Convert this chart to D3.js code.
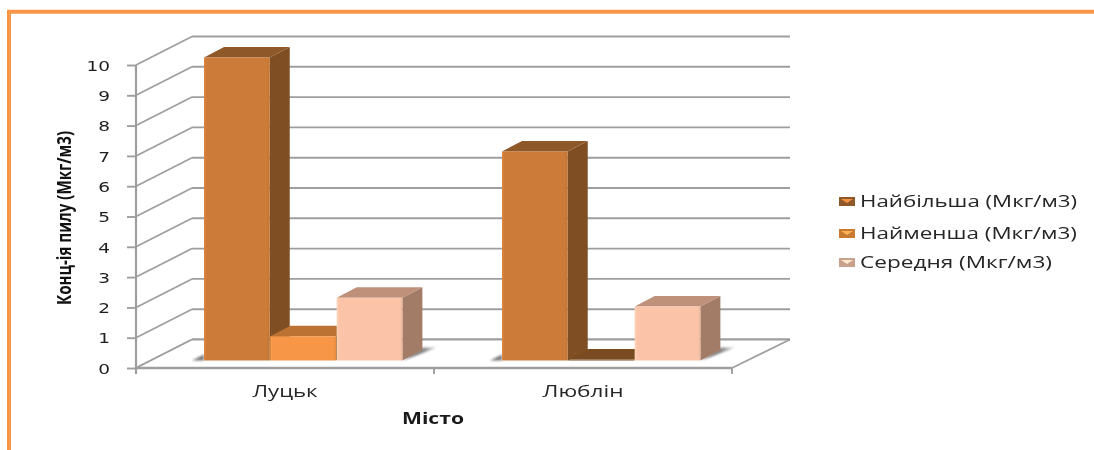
<!DOCTYPE html>
<html><head><meta charset="utf-8">
<script src="https://cdn.jsdelivr.net/npm/d3@7/dist/d3.min.js"></script>
<style>html,body{margin:0;padding:0;background:#fff;overflow:hidden}svg{display:block;filter:blur(0.4px)}</style>
</head><body><svg id="c" width="1094" height="450"></svg>
<script>
const categories = ["Луцьк", "Люблін"];
const seriesNames = ["Найбільша (Мкг/м3)", "Найменша (Мкг/м3)", "Середня (Мкг/м3)"];
const maxValues = [10, 6.9];
const minValues = [0.8, 0.03];
const avgValues = [2.07, 1.78];
const yTicks = [0,1,2,3,4,5,6,7,8,9,10];
const seriesValues = [maxValues, minValues, avgValues];
const frontColors = ["#CC7B38", "#F79646", "#FBC4A9"];
const sideColors = ["#7F4E23", "#8A5424", "#A37C68"];
const topColors = ["#8E5829", "#BC7233", "#BF917B"];
const legendSwatch = ["#8E5829", "#C87A30", "#C9A08C"];

const svg = d3.select("#c");
const defs = svg.append("defs");
const m = {left:136, right:732, y0:368, y10:65};
const wall = {dx:56, dy:-28.5};
const barOff = {dx:14, dy:-7.5};
const barDepth = {dx:20, dy:-10.5};

const y = d3.scaleLinear().domain([0,10]).range([m.y0, m.y10]);
const x0 = d3.scaleBand().domain(categories).range([m.left, m.right]);
const x1 = d3.scaleBand().domain(d3.range(3)).range([54, 253]);

svg.append("path").attr("d","M9 450V11.7H1094").attr("fill","none").attr("stroke","#F79646").attr("stroke-width",4);

const grey="#9E9E9E";
const g = svg.append("g");
yTicks.forEach(t=>{
  g.append("line").attr("x1",m.left+wall.dx).attr("x2",790).attr("y1",y(t)+wall.dy).attr("y2",y(t)+wall.dy)
   .attr("stroke",grey).attr("stroke-width",1.9);
  g.append("line").attr("x1",m.left).attr("x2",m.left+wall.dx).attr("y1",y(t)).attr("y2",y(t)+wall.dy)
   .attr("stroke",grey).attr("stroke-width",1.7);
});
g.append("path").attr("d",`M${m.left} ${y(0)}L${m.left+wall.dx} ${y(0)+wall.dy}H790L${m.right} ${y(0)}Z`).attr("fill","#fff");
g.append("line").attr("x1",m.left).attr("x2",m.left+wall.dx).attr("y1",y(0)).attr("y2",y(0)+wall.dy).attr("stroke",grey).attr("stroke-width",1.7);
g.append("line").attr("x1",m.right).attr("x2",790).attr("y1",y(0)).attr("y2",y(0)+wall.dy).attr("stroke",grey).attr("stroke-width",1.7);
g.append("line").attr("x1",m.left+wall.dx).attr("x2",790).attr("y1",y(0)+wall.dy).attr("y2",y(0)+wall.dy).attr("stroke",grey).attr("stroke-width",1.9);

const yAxis = d3.axisLeft(y).tickValues(yTicks).tickSize(9).tickPadding(0).tickFormat(d3.format("d"));
const ya = svg.append("g").attr("transform",`translate(${m.left},0)`).call(yAxis);
ya.select(".domain").attr("stroke",grey).attr("stroke-width",2.2).attr("d",`M0 ${m.y10}V${m.y0+6}`);
ya.selectAll(".tick line").attr("stroke",grey).attr("stroke-width",1.9);
ya.selectAll(".tick text").attr("x",0).attr("dy","0.36em")
  .attr("transform","translate(-26,0) scale(1.28,1)")
  .attr("font-family","'DejaVu Sans'").attr("font-size",14.5).attr("fill","#1f1f1f").style("text-anchor","end");

const xAxis = svg.append("g");
xAxis.append("line").attr("x1",m.left).attr("x2",m.right).attr("y1",y(0)).attr("y2",y(0)).attr("stroke",grey).attr("stroke-width",2.4);
[m.left].concat(categories.map(c=>x0(c)+x0.bandwidth())).forEach(v=>{
  xAxis.append("line").attr("x1",v).attr("x2",v).attr("y1",y(0)).attr("y2",y(0)+6).attr("stroke",grey).attr("stroke-width",1.9);
});
categories.forEach((c,i)=>{
  svg.append("text").text(c).attr("x",x0(c)+x0.bandwidth()/2).attr("y",397).attr("text-anchor","middle")
   .attr("font-family","'Open Sans'").attr("font-size",16).attr("fill","#262626")
   .attr("textLength",[65,81][i]).attr("lengthAdjust","spacingAndGlyphs");
});

const blur = defs.append("filter").attr("id","sh").attr("x","-50%").attr("y","-50%").attr("width","200%").attr("height","200%");
blur.append("feGaussianBlur").attr("stdDeviation",1.2);
const shGrad = defs.append("linearGradient").attr("id","shr");
shGrad.append("stop").attr("offset",0).attr("stop-color","#5f5f5f");
shGrad.append("stop").attr("offset",.6).attr("stop-color","#8a8a8a");
shGrad.append("stop").attr("offset",1).attr("stop-color","#dddddd");

categories.forEach((c,ci)=>{
  const cg = svg.append("g");
  const xL = x0(c)+barOff.dx+x1(0);
  const xR = x0(c)+barOff.dx+x1(2)+x1.bandwidth();
  const base = y(0)+barOff.dy;
  cg.append("path").attr("filter","url(#sh)").attr("fill","#7a7a7a")
    .attr("d",`M${xL-12} ${base}L${xL} ${base-6}V${base}Z`);
  cg.append("path").attr("filter","url(#sh)").attr("fill","url(#shr)")
    .attr("d",`M${xR} ${base}L${xR+20} ${base-13}H${xR+34}L${xR+16} ${base-6}Z`);
  seriesValues.forEach((vals,si)=>{
    const v = vals[ci];
    const bx = x0(c)+barOff.dx+x1(si), bw = x1.bandwidth()-0.6;
    const top = y(v)+barOff.dy;
    const d = barDepth;
    const zero = v<0.1;
    cg.append("path").attr("fill",sideColors[si])
      .attr("d",`M${bx+bw} ${base}V${top}L${bx+bw+d.dx} ${top+d.dy}V${base+d.dy}Z`);
    cg.append("path").attr("fill",zero?"#7A4A20":topColors[si])
      .attr("d",`M${bx} ${top}L${bx+d.dx} ${top+d.dy}H${bx+bw+d.dx}L${bx+bw} ${top}Z`);
    const id=`gf${ci}${si}`;
    const lg=defs.append("linearGradient").attr("id",id);
    const col=d3.color(frontColors[si]);
    [[0,col.brighter(.25)],[.04,col],[.96,col],[1,col.darker(.2)]].forEach(s=>lg.append("stop").attr("offset",s[0]).attr("stop-color",s[1]));
    cg.append("rect").attr("x",bx).attr("y",top).attr("width",bw).attr("height",Math.max(0,base-top)).attr("fill",zero?"#7A4A20":`url(#${id})`);
  });
});

svg.append("text").text("Місто").attr("x",433).attr("y",424).attr("text-anchor","middle")
  .attr("font-family","'Open Sans'").attr("font-weight",700).attr("font-size",16).attr("fill","#1a1a1a")
  .attr("textLength",62).attr("lengthAdjust","spacingAndGlyphs");
svg.append("text").text("Конц-ія пилу (Мкг/м3)").attr("transform","translate(71,218) rotate(-90)").attr("text-anchor","middle")
  .attr("font-family","'Open Sans'").attr("font-weight",700).attr("font-size",20).attr("fill","#111")
  .attr("textLength",174).attr("lengthAdjust","spacingAndGlyphs");

const legY=[207,239,268], legW=[217,217,192];
seriesNames.forEach((n,i)=>{
  const ly=legY[i];
  svg.append("rect").attr("x",839).attr("y",ly-10).attr("width",16).attr("height",9).attr("fill",legendSwatch[i]);
  svg.append("path").attr("d",`M841 ${ly-8}H853L847 ${ly-4}Z`).attr("fill",d3.color(frontColors[i]).brighter(.5));
  svg.append("text").text(n).attr("x",860).attr("y",ly).attr("font-family","'Open Sans'").attr("font-size",17).attr("fill","#262626")
    .attr("textLength",legW[i]).attr("lengthAdjust","spacingAndGlyphs");
});
</script></body></html>
